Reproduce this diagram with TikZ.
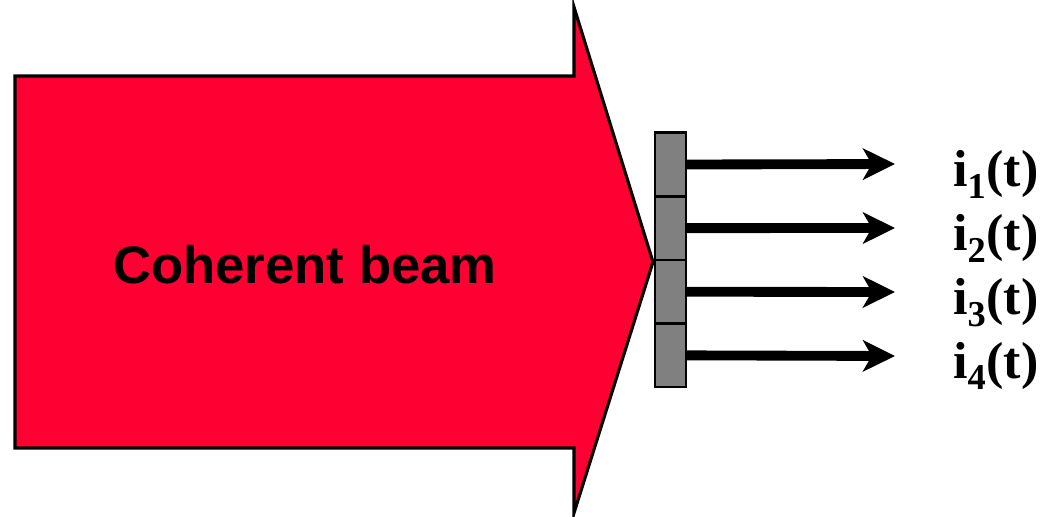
\documentclass[tikz,border=0pt]{standalone}
\usepackage{fontspec}
\setmainfont{Liberation Serif}
\newfontfamily\arialfont{Liberation Sans}
\usetikzlibrary{arrows.meta, positioning}
\definecolor{beamred}{HTML}{FF0033}
\definecolor{detgray}{HTML}{808080}

\begin{document}
\begin{tikzpicture}[x=0.025cm, y=-0.025cm, >={Stealth[length=0.8cm, width=0.78cm, inset=0.22cm]}, font=\bfseries]
				\useasboundingbox (0,0) rectangle (1048,516);
				
				\draw[line width=2.2pt, fill=beamred] (15,76) -- (574,76) -- (574,7) -- (653,262) -- (574,513) -- (574,448) -- (15,448) -- cycle;
				\node[anchor=base, inner sep=0pt, font=\arialfont\bfseries\fontsize{37.5}{44}\selectfont] (beam) at (305,283) {Coherent beam};
				
				\node[draw, line width=1.8pt, fill=detgray, minimum width=0.78cm, minimum height=1.59cm, inner sep=0pt, outer sep=0pt] (det1) at (670.5,164.5) {};
				\node[draw, line width=1.8pt, fill=detgray, minimum width=0.78cm, minimum height=1.59cm, inner sep=0pt, outer sep=0pt, below=0pt of det1] (det2) {};
				\node[draw, line width=1.8pt, fill=detgray, minimum width=0.78cm, minimum height=1.59cm, inner sep=0pt, outer sep=0pt, below=0pt of det2] (det3) {};
				\node[draw, line width=1.8pt, fill=detgray, minimum width=0.78cm, minimum height=1.59cm, inner sep=0pt, outer sep=0pt, below=0pt of det3] (det4) {};
				
				\coordinate (end1) at (895,164);
				\coordinate (end2) at (895,228);
				\coordinate (end3) at (895,292);
				\coordinate (end4) at (895,356);
				\draw[->, line width=7pt] (det1.east) -- (end1);
				\draw[->, line width=7pt] (det2.east) -- (end2);
				\draw[->, line width=7pt] (det3.east) -- (end3);
				\draw[->, line width=7pt] (det4.east) -- (end4);
				
				\node[anchor=base west, inner sep=0pt, font=\bfseries\fontsize{37}{44}\selectfont] (cur1) at (953,186) {i\textsubscript{1}(t)};
				\node[anchor=base west, inner sep=0pt, font=\bfseries\fontsize{37}{44}\selectfont] (cur2) at (953,250) {i\textsubscript{2}(t)};
				\node[anchor=base west, inner sep=0pt, font=\bfseries\fontsize{37}{44}\selectfont] (cur3) at (953,314) {i\textsubscript{3}(t)};
				\node[anchor=base west, inner sep=0pt, font=\bfseries\fontsize{37}{44}\selectfont] (cur4) at (953,378) {i\textsubscript{4}(t)};
			\end{tikzpicture}
\end{document}
